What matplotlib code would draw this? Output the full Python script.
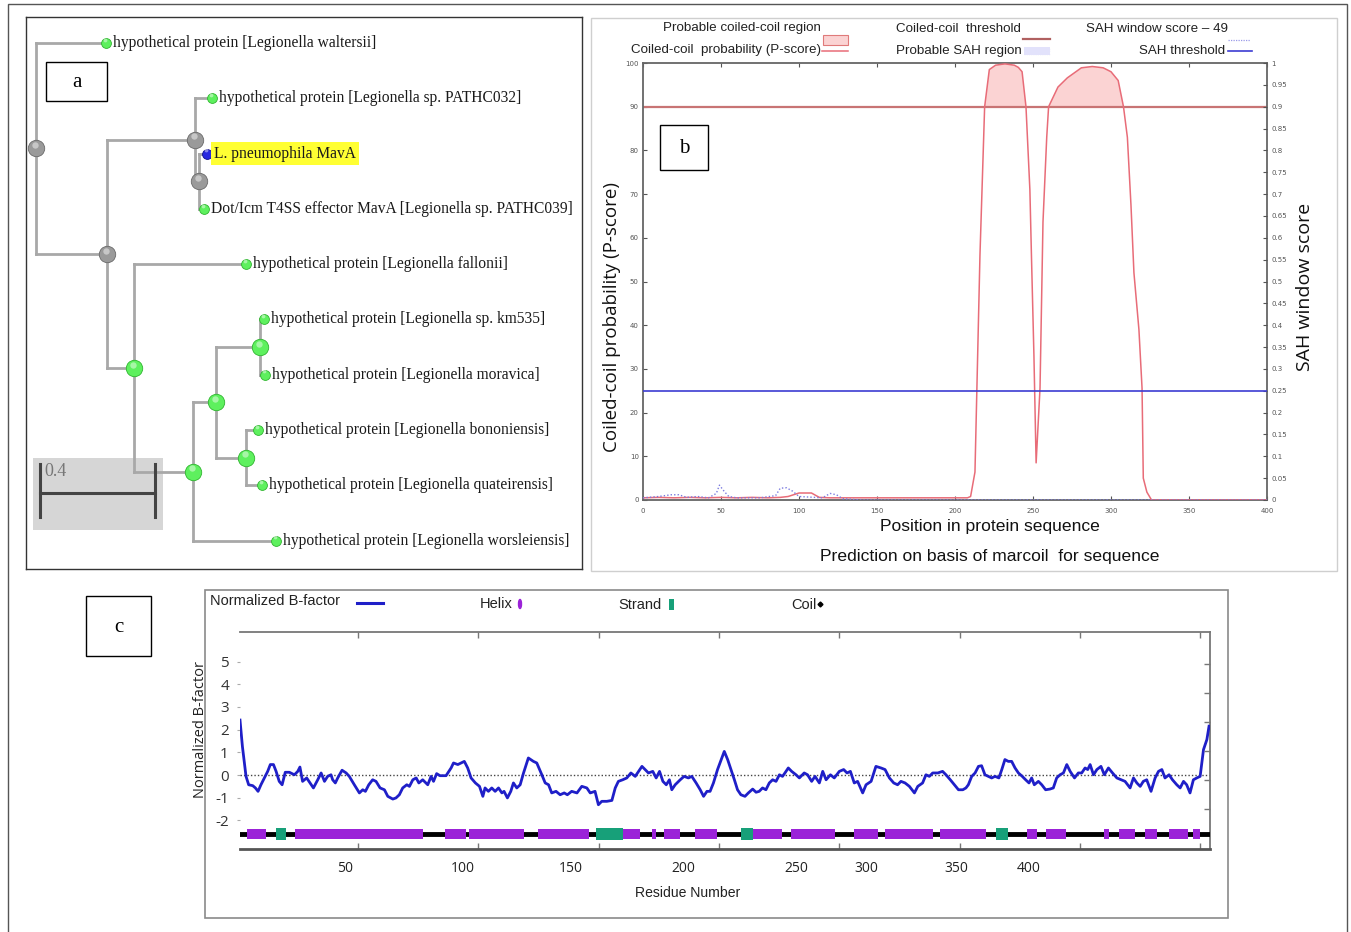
import numpy as np
import matplotlib
matplotlib.use("Agg")
import matplotlib.pyplot as plt
from matplotlib import font_manager
from matplotlib.patches import Rectangle, Ellipse
from matplotlib.transforms import blended_transform_factory

W, H = 1351, 932

# ---------------- panel a : tree ----------------
leaf_names = [
    "hypothetical protein [Legionella waltersii]",
    "hypothetical protein [Legionella sp. PATHC032]",
    "L. pneumophila MavA",
    "Dot/Icm T4SS effector MavA [Legionella sp. PATHC039]",
    "hypothetical protein [Legionella fallonii]",
    "hypothetical protein [Legionella sp. km535]",
    "hypothetical protein [Legionella moravica]",
    "hypothetical protein [Legionella bononiensis]",
    "hypothetical protein [Legionella quateirensis]",
    "hypothetical protein [Legionella worsleiensis]",
]
query_leaf = 2
# (branch length, leaf index or list of children)
tree = (0.0, [
    (0.243, 0),
    (0.247, [
        (0.306, [
            (0.059, 1),
            (0.014, [(0.028, 2), (0.017, 3)]),
        ]),
        (0.094, [
            (0.390, 4),
            (0.205, [
                (0.080, [
                    (0.153, [(0.014, 5), (0.017, 6)]),
                    (0.104, [(0.042, 7), (0.056, 8)]),
                ]),
                (0.289, 9),
            ]),
        ]),
    ]),
])
scale_len = 0.4

# ---------------- panel b : marcoil ----------------
cc_pos = [0, 10, 20, 30, 40, 50, 60, 70, 80, 88, 93, 100, 108, 113, 120, 140, 160, 180, 200, 208,
          210, 212.8, 216, 219, 222, 226, 232, 238, 240.6, 243, 245.5, 248, 249, 250.6, 252, 254.5,
          256.4, 258.8, 260, 266, 272, 281, 288, 295, 300, 304.6, 308, 310.5, 312.8, 314.7, 317.9,
          319.9, 320.7, 323, 326, 400]
cc_score = [0.5, 0.6, 0.5, 0.6, 0.5, 0.6, 0.5, 0.6, 0.5, 0.6, 0.8, 1.6, 1.6, 0.6, 0.5, 0.5, 0.5, 0.5, 0.5, 0.5,
            0.8, 6.4, 56, 90, 98.5, 99.5, 99.8, 99.5, 99, 98, 90, 71, 56, 33, 8.5, 25.6,
            63.6, 83, 90, 94.5, 96.6, 98.9, 99.2, 98.9, 98, 96, 90, 83, 67.5, 52, 39,
            25.6, 5, 1.8, 0, 0]
sah_pos = [0, 10, 18, 23, 28, 35, 42, 47, 49, 52, 55, 60, 75, 85, 88, 92, 96, 100, 115, 120, 124, 128, 140, 400]
sah_score = [0.005, 0.008, 0.012, 0.012, 0.006, 0.008, 0.005, 0.015, 0.034, 0.02, 0.008, 0.005, 0.005,
             0.01, 0.027, 0.028, 0.02, 0.008, 0.005, 0.015, 0.012, 0.003, 0.0, 0.0]
cc_threshold = 90
sah_threshold = 0.25

# ---------------- panel c : B-factor ----------------
bf_res = [1, 2, 3.5, 4.6, 6.3, 7.4, 8.5, 9.7, 11.1, 12.5, 13.6, 14.9, 16.0, 17.3, 18.5, 19.8, 21.5, 23.6,
          25.0, 25.9, 27.0, 28.7, 30.1, 31.5, 33.3, 34.7, 36.1, 37.4, 38.8, 39.5, 40.6, 41.6, 43.4, 45.1,
          46.4, 48.5, 50.6, 52.0, 53.1, 54.5, 56.1, 57.5, 59.2, 61.0, 62.4, 64.5, 65.8, 67.2, 68.6, 70.3,
          71.4, 72.8, 74.2, 75.3, 76.9, 79.0, 80.4, 81.4, 82.7, 84.1, 86.6, 88.7, 89.7, 91.5, 92.9, 94.2,
          95.6, 97.0, 98.8, 100.5,
          101.9, 102.8, 104.2, 105.6, 107.0, 108.4, 109.8, 110.7, 112.1, 113.5, 114.6, 116.0, 117.4, 118.8,
          120.8, 122.9, 124.3, 126.4, 127.8, 129.2, 130.5, 132.3, 134.0, 135.7, 137.0, 138.8, 141.0, 143.0,
          145.1, 146.5, 148.5, 149.9, 151.3, 153.4, 155.5, 156.9, 158.2, 160.0, 161.7, 163.4, 165.2, 166.6,
          168.0, 169.3, 170.7, 172.5, 173.9, 175.3, 176.7, 178.1, 179.4, 180.4, 181.8, 183.9, 185.5, 187.3,
          188.7, 190.5, 192.2, 193.6, 195.0, 196.3, 197.7, 199.4,
          202.2, 203.6, 205.0, 206.4, 207.7, 209.1, 210.8, 212.2, 214.0, 215.4, 216.7, 218.1, 219.5, 220.9,
          222.3, 223.7, 225.1, 226.4, 227.4, 228.8, 230.2, 232.0, 233.4, 235.4, 236.8, 238.5, 239.9, 241.7,
          243.1, 244.5, 246.3, 247.9, 250.0, 251.8, 253.2, 254.6, 256.2, 257.6, 259.7, 261.1, 263.2, 265.2,
          267.3, 269.0, 270.8, 272.6, 274.2, 275.6, 277.3, 279.1, 281.2, 282.6, 284.6, 286.0, 287.4, 288.8,
          290.9, 292.9, 294.3, 296.1, 297.8, 299.5, 301.3, 302.6,
          303.6, 305.0, 306.4, 307.8, 309.1, 310.5, 311.9, 313.3, 314.7, 316.3, 317.5, 318.8, 320.2, 321.6,
          323.0, 324.4, 326.0, 327.4, 328.8, 329.9, 331.0, 332.7, 334.1, 335.7, 337.5, 338.9, 340.3, 341.7,
          343.1, 344.5, 345.9, 347.7, 349.3, 350.7, 352.1, 353.2, 354.2, 355.6, 357.0, 358.7, 360.1, 361.8,
          363.5, 365.3, 367.1, 368.7, 370.8, 372.2, 373.6, 375.0, 376.3, 377.7, 379.5, 381.2, 382.6, 384.0,
          385.3, 387.0, 388.4, 390.2, 391.6, 393.0, 394.3, 395.7, 397.1, 398.5, 399.9, 401.3, 402.7, 403.6]
bf_val = [2.42, 1.26, -0.06, -0.43, -0.47, -0.57, -0.72, -0.43, -0.13, 0.16, 0.46, 0.46, 0.16, -0.28, -0.43,
          0.12, 0.12, 0.01, 0.16, 0.35, -0.28, -0.13, -0.35, -0.57, -0.21, 0.09, -0.28, -0.06, 0.01, -0.21,
          -0.35, -0.13, 0.21, 0.09, -0.06, -0.43, -0.79, -0.65, -0.72, -0.43, -0.21, -0.28, -0.57, -0.65,
          -0.94, -1.06, -1.01, -0.87, -0.57, -0.43, -0.50, -0.21, -0.13, -0.35, -0.21, -0.43, -0.06, -0.28,
          0.06, -0.03, -0.03, 0.31, 0.53, 0.46, 0.53, 0.60, 0.31, -0.13, -0.35, -0.50,
          -0.94, -0.57, -0.72, -0.57, -0.72, -0.57, -0.79, -0.72, -1.01, -0.72, -0.35, -0.57, -0.43, 0.09,
          0.75, 0.60, 0.53, 0.01, -0.35, -0.43, -0.79, -0.72, -0.87, -0.79, -0.87, -0.72, -0.79, -0.50,
          -0.57, -0.79, -0.72, -1.31, -1.16, -1.16, -1.12, -0.57, -0.28, -0.21, -0.13, 0.09, -0.06, 0.16,
          0.38, 0.24, 0.09, 0.16, -0.13, 0.16, -0.28, -0.43, -0.21, -0.65, -0.43, -0.21, -0.06, -0.13,
          -0.06, -0.35, -0.65, -0.94, -0.72, -0.72, -0.35, 0.24,
          1.04, 0.68, 0.24, -0.21, -0.65, -0.87, -0.94, -0.79, -0.62, -0.76, -0.72, -0.57, -0.65, -0.35,
          -0.21, -0.28, 0.01, -0.06, 0.09, 0.31, 0.16, 0.01, -0.13, 0.09, 0.01, -0.28, -0.06, -0.35,
          0.16, -0.21, 0.01, -0.13, 0.16, 0.24, 0.09, 0.16, -0.35, -0.28, -0.79, -0.43, -0.28, 0.38,
          0.31, 0.24, -0.13, -0.35, -0.43, -0.28, -0.35, -0.50, -0.79, -0.50, -0.35, 0.01, -0.06, 0.09,
          0.09, 0.16, 0.01, -0.21, -0.43, -0.65, -0.65, -0.57,
          -0.43, -0.06, 0.09, 0.38, 0.41, 0.01, -0.06, -0.13, -0.06, -0.13, 0.24, 0.68, 0.60, 0.60,
          0.31, 0.09, -0.06, -0.21, -0.35, -0.13, -0.43, -0.28, -0.43, -0.65, -0.62, -0.57, -0.13, 0.01,
          0.09, 0.46, 0.16, -0.13, 0.09, 0.09, 0.31, 0.24, 0.46, 0.01, 0.24, 0.38, 0.01, 0.31,
          0.09, -0.13, -0.21, -0.28, -0.57, -0.13, -0.35, -0.50, -0.28, -0.21, -0.72, -0.13, 0.16, 0.24,
          -0.13, 0.01, -0.21, -0.43, -0.57, -0.28, -0.43, -0.79, -0.21, -0.13, -0.06, 1.12, 1.56, 2.15]
helix_segs = [(4, 12), (24, 77), (86, 95), (96, 119), (125, 146), (160, 167), (172, 174), (177, 184),
              (190, 199), (214, 226), (230, 248), (256, 266), (269, 289), (292, 311), (328, 332),
              (336, 344), (360, 362), (366, 373), (377, 382), (387, 395), (397, 400)]
strand_segs = [(16, 20), (149, 160), (209, 214), (315, 320)]
seq_len = 404
xtick_text = ["50", "100", "150", "200", "250", "300", "350", "400"]
xtick_at = [44.6, 93.7, 138.6, 185.1, 232.1, 261.2, 298.6, 328.5]

# ---------------- fonts ----------------
installed = {f.name for f in font_manager.fontManager.ttflist}
if "Liberation Sans Narrow" in installed:
    NARROW, nk = "Liberation Sans Narrow", 1.0
else:
    NARROW, nk = "Liberation Sans", 0.84
SERIF = "Liberation Serif"
SANS = "Open Sans"


def fx(px):
    return px / W


def fy(py):
    return 1 - py / H


fig = plt.figure(figsize=(W / 100, H / 100), dpi=100)


def frame(x0, y0, x1, y1, color, lw=1.0, fill=None, z=1):
    r = Rectangle((fx(x0), fy(y1)), (x1 - x0) / W, (y1 - y0) / H, transform=fig.transFigure,
                  facecolor=fill if fill else "none", edgecolor=color, lw=lw, zorder=z)
    fig.add_artist(r)


def letter_box(s, x0, y0, x1, y1):
    frame(x0, y0, x1, y1, "black", 1.0, fill="white", z=5)
    fig.text(fx((x0 + x1) / 2), fy((y0 + y1) / 2 + 1), s, ha="center", va="center",
             family=SERIF, fontsize=15, zorder=6)


frame(8, 4, 1347, 940, "#555555", 1.0)

# ================= panel a =================
axa = fig.add_axes([fx(26), fy(569), 556 / W, 552 / H])
axa.set_xlim(-10 / 287.5, 546 / 287.5)
axa.set_ylim((569 - 43) / 55.3, (17 - 43) / 55.3)
axa.set_xticks([])
axa.set_yticks([])
for sp in axa.spines.values():
    sp.set_color("#333333")
    sp.set_linewidth(1.0)

branch_col = "#a8a8a8"
nodes = []  # (x, y, kind)


def contains(node, leaf):
    sub = node[1]
    if isinstance(sub, int):
        return sub == leaf
    return any(contains(c, leaf) for c in sub)


def layout(node, x_parent):
    x = x_parent + node[0]
    sub = node[1]
    if isinstance(sub, int):
        y = sub
        nodes.append((x, y, "query" if sub == query_leaf else "leaf"))
    else:
        ys = [layout(c, x) for c in sub]
        y = (min(ys) + max(ys)) / 2
        axa.plot([x, x], [min(ys), max(ys)], color=branch_col, lw=2, zorder=2)
        nodes.append((x, y, "anc" if contains(node, query_leaf) else "int"))
    axa.plot([x_parent, x], [y, y], color=branch_col, lw=2, zorder=2)
    return y


layout(tree, 0.0)

style = {"leaf": ("#5ef05e", "#2fb52f", 50),
         "int": ("#5ef05e", "#2fb52f", 140),
         "anc": ("#9a9a9a", "#6a6a6a", 140),
         "query": ("#2a2ae0", "#10108a", 50)}
for x, y, kind in nodes:
    fc, ec, s = style[kind]
    axa.scatter([x], [y], s=s, color=fc, edgecolors=ec, linewidths=0.6, zorder=4)
    axa.scatter([x - 0.004], [y - 0.06], s=s * 0.15, color="white", alpha=0.45, lw=0, zorder=5)

for x, y, kind in nodes:
    if kind in ("leaf", "query"):
        name = leaf_names[y]
        kw = {}
        if kind == "query":
            kw["bbox"] = dict(boxstyle="square,pad=0.2", fc="#ffff33", ec="none")
        axa.text(x + 0.025, y, name, ha="left", va="center", family=SERIF, fontsize=11.2,
                 color="#1a1a1a", zorder=6, **kw)

# scale bar
axa.add_patch(Rectangle((-3 / 287.5, (458 - 43) / 55.3), 130 / 287.5, 72 / 55.3,
                        color="#d6d6d6", lw=0, zorder=1))
sb_y = (493 - 43) / 55.3
sb_x0 = 4 / 287.5
axa.plot([sb_x0, sb_x0 + scale_len], [sb_y, sb_y], color="#444444", lw=2.2, zorder=3)
for xe in (sb_x0, sb_x0 + scale_len):
    axa.plot([xe, xe], [sb_y - 0.53, sb_y + 0.43], color="#444444", lw=2.2, zorder=3)
axa.text(sb_x0 + 0.015, (472 - 43) / 55.3, "0.4", family=SERIF, fontsize=13, color="#777777",
         ha="left", va="center", zorder=3)

letter_box("a", 46, 62, 107, 101)

# ================= panel b =================
frame(591, 18, 1337, 571, "#cfcfcf", 1.0)
axb = fig.add_axes([fx(643), fy(500), 624 / W, 437 / H])
axb.set_xlim(0, 400)
axb.set_ylim(0, 100)
cc_pos_a = np.array(cc_pos, dtype=float)
cc_score_a = np.array(cc_score, dtype=float)
axb.fill_between(cc_pos_a, cc_threshold, cc_score_a, where=cc_score_a > cc_threshold,
                 interpolate=True, color="#fbd3d3", lw=0, zorder=1)
axb.axhline(cc_threshold, color="#c87474", lw=1.6, zorder=2)
axb.plot(cc_pos_a, cc_score_a, color="#e86c78", lw=1.1, zorder=3)
axb.set_xticks(np.arange(0, 401, 50))
axb.set_yticks(np.arange(0, 101, 10))
axb.tick_params(axis="both", direction="in", length=3, labelsize=5, colors="#555555",
                top=True, width=0.8, pad=3)
axb.tick_params(axis="x", pad=6)
for sp in axb.spines.values():
    sp.set_color("#666666")
    sp.set_linewidth(1.3)

axb2 = axb.twinx()
axb2.set_ylim(0, 1)
axb2.plot(sah_pos, sah_score, color="#7b7be0", lw=1.0, ls=(0, (1, 1.5)), zorder=3)
axb2.axhline(sah_threshold, color="#3c3cd2", lw=1.2, zorder=2)
axb2.set_yticks(np.arange(0, 1.001, 0.05))
axb2.set_yticklabels(["%g" % round(v, 2) for v in np.arange(0, 1.001, 0.05)])
axb2.tick_params(axis="y", direction="in", length=3, labelsize=5, colors="#555555", width=0.8, pad=3)
for sp in axb2.spines.values():
    sp.set_visible(False)

fig.text(fx(612), fy(317), "Coiled-coil probability (P-score)", rotation=90, ha="center",
         va="center", family=SANS, fontsize=13.5, color="#111111")
fig.text(fx(1305), fy(287), "SAH window score", rotation=90, ha="center", va="center",
         family=SANS, fontsize=14, color="#111111")
fig.text(fx(990), fy(527), "Position in protein sequence", ha="center", va="center",
         family=NARROW, fontsize=15 * nk, color="#111111")
fig.text(fx(990), fy(557), "Prediction on basis of marcoil  for sequence", ha="center",
         va="center", family=NARROW, fontsize=15 * nk, color="#111111")

# legend of panel b
lg = dict(family=NARROW, fontsize=11.5 * nk, color="#222222", va="center")
fig.text(fx(821), fy(28), "Probable coiled-coil region", ha="right", **lg)
fig.text(fx(821), fy(50), "Coiled-coil  probability (P-score)", ha="right", **lg)
fig.text(fx(896), fy(29), "Coiled-coil  threshold", ha="left", **lg)
fig.text(fx(896), fy(51), "Probable SAH region", ha="left", **lg)
fig.text(fx(1086), fy(29), "SAH window score \u2013 49", ha="left", **lg)
fig.text(fx(1225), fy(51), "SAH threshold", ha="right", **lg)
frame(823, 35, 848, 45, "#e07a7a", 0.8, fill="#fbd3d3", z=3)
fig.add_artist(plt.Line2D([fx(822), fx(848)], [fy(51), fy(51)], color="#e86c78", lw=1.1))
fig.add_artist(plt.Line2D([fx(1023), fx(1050)], [fy(39), fy(39)], color="#b06060", lw=1.6))
frame(1024, 47, 1050, 55, "none", 0, fill="#e2e2fb", z=3)
for yy in (48.5, 51, 53.5):
    fig.add_artist(plt.Line2D([fx(1024), fx(1050)], [fy(yy), fy(yy)], color="#9a9ae8",
                              lw=0.8, ls=(0, (1, 1))))
fig.add_artist(plt.Line2D([fx(1228), fx(1250)], [fy(40), fy(40)], color="#9a9ae8", lw=0.9,
                          ls=(0, (1, 1))))
fig.add_artist(plt.Line2D([fx(1228), fx(1252)], [fy(51), fy(51)], color="#3c3cd2", lw=1.2))

letter_box("b", 660, 125, 708, 170)

# ================= panel c =================
frame(205, 590, 1228, 918, "#8a8a8a", 1.2)
axc = fig.add_axes([fx(240), fy(849), 970 / W, 217 / H])
axc.set_xlim(1, seq_len)
axc.set_ylim(-3.26, 6.3)
axc.axhline(0, color="#444444", lw=1.0, ls=(0, (1, 1.5)), zorder=2)
axc.plot(bf_res, bf_val, color="#1f1fc8", lw=2.0, zorder=3)
track_y = -2.6
axc.plot([1, seq_len], [track_y, track_y], color="black", lw=3.5, zorder=3)
for s, e in helix_segs:
    axc.add_patch(Rectangle((s, track_y - 0.24), e - s, 0.48, color="#9b22d8", lw=0, zorder=4))
for s, e in strand_segs:
    axc.add_patch(Rectangle((s, track_y - 0.28), e - s, 0.56, color="#17a079", lw=0, zorder=4))

axc.set_xticks(np.arange(50, 401, 50))
axc.set_xticklabels([])
axc.tick_params(axis="x", direction="in", length=4, top=True, color="#777777", width=1)
axc.set_yticks(np.arange(-2, 6, 1))
axc.set_yticklabels([str(v) for v in range(-2, 6)], family=SANS, fontsize=11, color="#333333")
axc.tick_params(axis="y", direction="out", length=2, color="#aaaaaa", pad=6)
axc.spines["left"].set_visible(False)
for k in ("top", "right", "bottom"):
    axc.spines[k].set_color("#777777")
    axc.spines[k].set_linewidth(1.3)
axc.spines["bottom"].set_color("#555555")
axc.spines["bottom"].set_linewidth(2)
trans = blended_transform_factory(axc.transData, axc.transAxes)
for lbl, xv in zip(xtick_text, xtick_at):
    axc.text(xv, -0.088, lbl, transform=trans, ha="center", va="center", family=SANS,
             fontsize=10, color="#222222")

axc2 = axc.twinx()
axc2.set_ylim(-2.38, 5.1)
axc2.set_yticks(np.arange(-1, 5, 1))
axc2.set_yticklabels([])
axc2.tick_params(axis="y", direction="in", length=4, color="#777777", width=1)
for sp in axc2.spines.values():
    sp.set_visible(False)

fig.text(fx(688), fy(893), "Residue Number", ha="center", va="center", family=NARROW,
         fontsize=12 * nk, color="#222222")
fig.text(fx(201), fy(730), "Normalized B-factor", rotation=90, ha="center", va="center",
         family=SANS, fontsize=10.5, color="#222222")

lc = dict(family=NARROW, fontsize=12.5 * nk, color="#222222", va="center", ha="left")
fig.text(fx(210), fy(601), "Normalized B-factor", **lc)
fig.add_artist(plt.Line2D([fx(357), fx(383)], [fy(603), fy(603)], color="#1f1fc8", lw=2.2))
fig.text(fx(480), fy(604), "Helix", **lc)
fig.add_artist(Ellipse((fx(520), fy(604)), 3 / W, 9 / H, transform=fig.transFigure,
                       color="#9b22d8"))
fig.text(fx(618), fy(605), "Strand", **lc)
frame(668.5, 599, 673.5, 610, "none", 0, fill="#17a079", z=3)
fig.text(fx(791), fy(605), "Coil", **lc)
fig.add_artist(plt.Line2D([fx(820)], [fy(604)], marker="D", markersize=2.5, color="black"))

letter_box("c", 86, 596, 151, 656)

fig.savefig("out.png", dpi=100)
